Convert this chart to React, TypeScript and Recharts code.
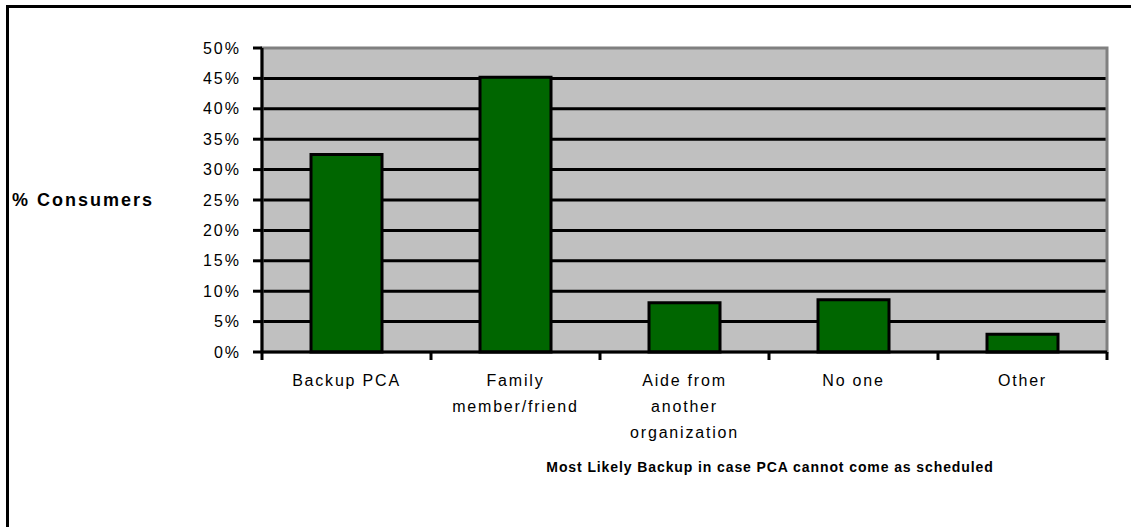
import React from "react";
import { BarChart, Bar, XAxis, YAxis, CartesianGrid, ReferenceArea } from "recharts";

const categories = ["Backup PCA", "Family member/friend", "Aide from another organization", "No one", "Other"];
const categoryLines = [["Backup PCA"], ["Family", "member/friend"], ["Aide from", "another", "organization"], ["No one"], ["Other"]];
const consumers = [32.5, 45.2, 8.1, 8.6, 2.9];
const yTicks = [0, 5, 10, 15, 20, 25, 30, 35, 40, 45, 50];
const xTitle = "Most Likely Backup in case PCA cannot come as scheduled";
const yTitle = "% Consumers";

const data = categories.map((c, i) => ({ name: c, value: consumers[i] }));

const W = 1131;
const H = 527;
const PLOT_LEFT = 262;
const PLOT_RIGHT = 1107;
const BAND = (PLOT_RIGHT - PLOT_LEFT) / categories.length;
const FONT = "'Liberation Sans', Arial, sans-serif";

function CategoryTick(props: any) {
  const { x, y, index } = props;
  const lines = categoryLines[index] || [];
  return (
    <g>
      <line x1={x - BAND / 2} x2={x - BAND / 2} y1={y} y2={y + 8} stroke="#000" strokeWidth={3} />
      {index === categories.length - 1 && (
        <line x1={x + BAND / 2} x2={x + BAND / 2} y1={y} y2={y + 8} stroke="#000" strokeWidth={3} />
      )}
      <text x={x} y={y + 34} textAnchor="middle" fontFamily={FONT} fontSize={16} letterSpacing={1.8} fill="#000">
        {lines.map((l, i) => (
          <tspan key={i} x={x} dy={i === 0 ? 0 : 26}>{l}</tspan>
        ))}
      </text>
    </g>
  );
}

function XTitle(props: any) {
  const { viewBox } = props;
  const y = viewBox.y + viewBox.height - 8;
  return (
    <text x={770} y={y} textAnchor="middle" fontFamily={FONT} fontSize={14} fontWeight="bold" letterSpacing={0.9} fill="#000">
      {xTitle}
    </text>
  );
}

export default function App() {
  return (
    <div style={{ position: "absolute", left: 0, top: 0, width: W, height: H, overflow: "hidden", background: "#fff" }}>
      <div style={{ position: "absolute", left: 6, top: 5, width: 2000, height: 1000, border: "3px solid #000" }} />
      <div style={{ position: "absolute", left: 0, top: 0 }}>
        <BarChart width={W} height={H} data={data} margin={{ top: 48, right: W - PLOT_RIGHT, left: 0, bottom: 47 }} barCategoryGap="29%">
          <CartesianGrid
            vertical={false}
            fill="#C0C0C0"
            stroke="#000"
            strokeWidth={3}
            horizontalValues={yTicks.filter((t) => t > 0 && t < 50)}
          />
          <ReferenceArea y1={0} y2={50} fill="none" stroke="#808080" strokeWidth={3} />
          <XAxis
            dataKey="name"
            height={128}
            axisLine={{ stroke: "#000", strokeWidth: 3 }}
            tickLine={false}
            tickSize={0}
            tickMargin={0}
            interval={0}
            tick={<CategoryTick />}
            label={{ value: xTitle, content: <XTitle /> }}
          />
          <YAxis
            width={PLOT_LEFT}
            domain={[0, 50]}
            ticks={yTicks}
            interval={0}
            tickFormatter={(v: number) => `${v}%`}
            axisLine={{ stroke: "#000", strokeWidth: 3 }}
            tickLine={{ stroke: "#000", strokeWidth: 3 }}
            tickSize={9}
            tickMargin={12}
            tick={{ fontFamily: FONT, fontSize: 16, fill: "#000", letterSpacing: 2 }}
            label={{
              value: yTitle,
              position: "insideLeft",
              offset: 12,
              style: { fontFamily: FONT, fontSize: 18, fontWeight: "bold", fill: "#000", letterSpacing: 2, textAnchor: "start" },
            }}
          />
          <Bar dataKey="value" fill="#006600" stroke="#000" strokeWidth={3} isAnimationActive={false} />
        </BarChart>
      </div>
    </div>
  );
}
